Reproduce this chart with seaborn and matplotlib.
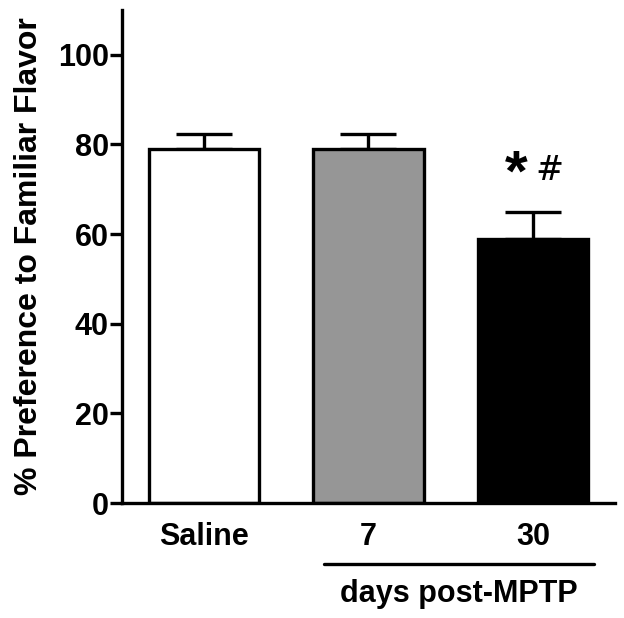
import numpy as np
import pandas as pd
import matplotlib
matplotlib.use("Agg")
import matplotlib.pyplot as plt
import seaborn as sns

# data
groups = ["Saline", "7", "30"]
means = [79.0, 79.0, 59.0]
sems = [3.4, 3.4, 6.0]
bar_colors = ["#ffffff", "#969696", "#000000"]

df = pd.DataFrame({"group": groups, "pref": means})

sns.set_style("ticks")
plt.rcParams["font.family"] = ["Liberation Sans", "DejaVu Sans"]
plt.rcParams["font.weight"] = "bold"
plt.rcParams["text.color"] = "black"
plt.rcParams["axes.edgecolor"] = "black"
plt.rcParams["xtick.color"] = "black"
plt.rcParams["ytick.color"] = "black"
plt.rcParams["axes.labelcolor"] = "black"

fig = plt.figure(figsize=(6.24, 6.18), dpi=100)
ax = fig.add_axes([0.1955, 0.186, 0.79, 0.798])

sns.barplot(data=df, x="group", y="pref", hue="group", palette=bar_colors,
            legend=False, width=0.67, edgecolor="black", linewidth=2.4,
            errorbar=None, ax=ax, zorder=2)

# one-sided SEM error bars
ax.errorbar(range(len(groups)), means, yerr=[np.zeros(len(sems)), sems],
            fmt="none", ecolor="black", elinewidth=2.4, capsize=20,
            capthick=2.4, zorder=1)

ax.set_xlim(-0.5, 2.5)
ax.set_ylim(0, 110)
ax.set_yticks([0, 20, 40, 60, 80, 100])
ax.set_xlabel("")
ax.set_ylabel("% Preference to Familiar Flavor", fontsize=23, fontweight="bold", labelpad=10)

for side in ["top", "right"]:
    ax.spines[side].set_visible(False)
for side in ["left", "bottom"]:
    ax.spines[side].set_linewidth(2.4)

ax.tick_params(axis="y", length=8.5, width=2.4, labelsize=22, pad=1)
ax.tick_params(axis="x", length=0, labelsize=22, pad=14)
for lbl in ax.get_xticklabels() + ax.get_yticklabels():
    lbl.set_fontweight("bold")

# significance marks
ax.text(1.9, 73.0, "*", fontsize=42, fontweight="bold", ha="center", va="center")
ax.text(2.1, 74.0, "#", fontsize=24, fontweight="normal", ha="center", va="center",
        family="DejaVu Serif")

# group bracket under the MPTP bars
ax.plot([0.73, 2.37], [-13.6, -13.6], color="black", lw=2.4, clip_on=False,
        solid_capstyle="round")
ax.text(1.55, -20.2, "days post-MPTP", fontsize=22, fontweight="bold",
        ha="center", va="center", clip_on=False)

fig.savefig("out.png", dpi=100)
